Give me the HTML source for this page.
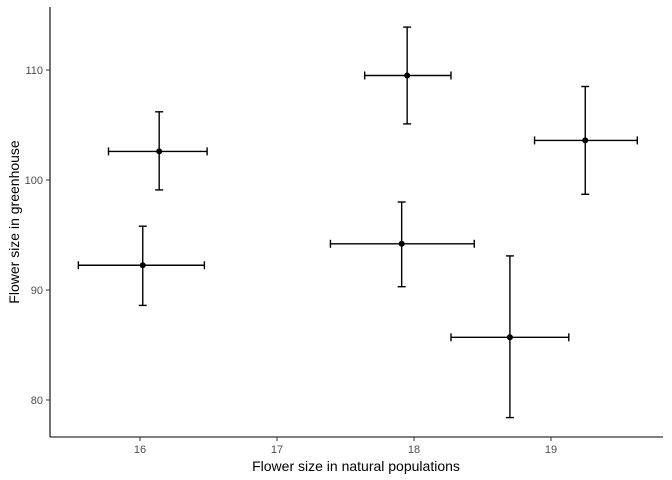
<!DOCTYPE html>
<html><head><meta charset="utf-8"><style>
html,body{margin:0;padding:0;background:#fff;}
svg{display:block;font-family:"Liberation Sans",Arial,sans-serif;}
</style></head><body>
<svg id="chart" width="672" height="480" viewBox="0 0 672 480">
<g id="marks"></g>
<line x1="50" y1="437" x2="663" y2="437" stroke="#000" stroke-width="1.1"/>
<line x1="50" y1="7" x2="50" y2="437" stroke="#000" stroke-width="1.1"/>
<g id="xticks"></g>
<g id="yticks"></g>
<text x="356" y="471" text-anchor="middle" font-size="14" fill="#000">Flower size in natural populations</text>
<text transform="translate(19,222) rotate(-90)" text-anchor="middle" font-size="14" fill="#000">Flower size in greenhouse</text>
</svg>
<script>
const xVals=[16.14,16.02,17.95,17.91,19.25,18.70];
const yVals=[102.6,92.25,109.5,94.2,103.6,85.7];
const xLo=[15.77,15.55,17.64,17.39,18.88,18.27];
const xHi=[16.49,16.47,18.27,18.44,19.63,19.13];
const yLo=[99.1,88.6,105.1,90.3,98.7,78.4];
const yHi=[106.2,95.8,113.9,98.0,108.5,93.1];
const xTicks=[16,17,18,19];
const yTicks=[80,90,100,110];
const X=v=>140+(v-16)*137;
const Y=v=>180-(v-100)*11;
const NS="http://www.w3.org/2000/svg";
function mk(p,t,a){const e=document.createElementNS(NS,t);for(const k in a)e.setAttribute(k,a[k]);p.appendChild(e);return e;}
const m=document.getElementById('marks');
for(let i=0;i<xVals.length;i++){
 const g=mk(m,'g',{});
 
 
 const cx=X(xVals[i]),cy=Y(yVals[i]),s={stroke:'#000','stroke-width':1.4};
 const v=mk(g,'line',Object.assign({x1:cx,x2:cx,y1:Y(yLo[i]),y2:Y(yHi[i])},s));
 
 
 mk(g,'line',Object.assign({x1:cx-4,x2:cx+4,y1:Y(yLo[i]),y2:Y(yLo[i])},s));
 mk(g,'line',Object.assign({x1:cx-4,x2:cx+4,y1:Y(yHi[i]),y2:Y(yHi[i])},s));
 const h=mk(g,'line',Object.assign({x1:X(xLo[i]),x2:X(xHi[i]),y1:cy,y2:cy},s));
 
 
 mk(g,'line',Object.assign({x1:X(xLo[i]),x2:X(xLo[i]),y1:cy-4,y2:cy+4},s));
 mk(g,'line',Object.assign({x1:X(xHi[i]),x2:X(xHi[i]),y1:cy-4,y2:cy+4},s));
 const c=mk(g,'circle',{cx:cx,cy:cy,r:3,fill:'#000'});
 
 
}
const xt=document.getElementById('xticks');
xTicks.forEach(t=>{
 mk(xt,'line',{x1:X(t),x2:X(t),y1:437,y2:441,stroke:'#333','stroke-width':1});
 const e=mk(xt,'text',{x:X(t),y:453,'text-anchor':'middle','font-size':11,fill:'#4d4d4d'});
 
 
 e.textContent=t;
});
const yt=document.getElementById('yticks');
yTicks.forEach(t=>{
 mk(yt,'line',{x1:46,x2:50,y1:Y(t),y2:Y(t),stroke:'#333','stroke-width':1});
 const e=mk(yt,'text',{x:43,y:Y(t)+4,'text-anchor':'end','font-size':11,fill:'#4d4d4d'});
 
 
 e.textContent=t;
});
</script>
</body></html>
